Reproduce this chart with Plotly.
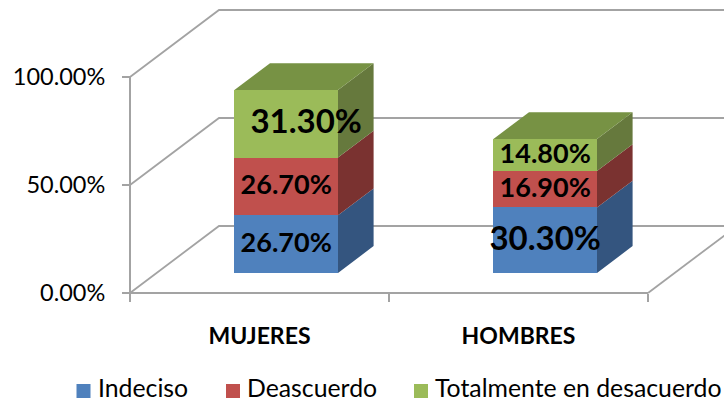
import plotly.graph_objects as go

categories = ["MUJERES", "HOMBRES"]
indeciso = [26.7, 30.3]
desacuerdo = [26.7, 16.9]
totalmente = [31.3, 14.8]
series_names = ["Indeciso", "Deascuerdo", "Totalmente en desacuerdo"]
y_ticks = [0, 50, 100]
y_tick_labels = ["0.00%", "50.00%", "100.00%"]

# style
FONT = "Lato, Carlito, sans-serif"
front = ["#4F81BD", "#C0504D", "#9BBB59"]
side = ["#34557F", "#7A3230", "#66793D"]
top_face = "#779244"
GRID = "#A3A3A3"
W, H = 724, 404
X0_PX, Y0_PX = 130, 293        # pixel position of the axes origin
PX_X, PX_Y = 259.0, 2.16       # pixels per category / per percent
DX, DY = 89 / PX_X, 67 / PX_Y  # oblique projection of full chart depth
D0, D1 = 0.3, 0.7              # bar extent in depth
BAR_W = 0.4
label_sizes = [[27, 33], [27, 27], [33, 27]]
label_nudge_x = [[0, 0], [0, 0], [20 / PX_X, 0]]
legend_swatch_px = [83.5, 233, 421]
legend_text_px = [98, 247, 435]
LEGEND_Y_PX = 391


def proj(x, y, d):
    return x + d * DX, y + d * DY


def from_px(px, py):
    return (px - X0_PX) / PX_X, (Y0_PX - py) / PX_Y


fig = go.Figure()

# walls and floor
grid_x, grid_y = [], []
XMAX = (W - X0_PX) / PX_X
XMIN = -X0_PX / PX_X
for v in y_ticks:
    bx, by = proj(0, v, 1)
    grid_x += [0, bx, XMAX, None]
    grid_y += [v, by, by, None]
fx, fy = proj(2, 0, 1)
grid_x += [2, fx, None]
grid_y += [0, fy, None]
fig.add_trace(go.Scatter(x=grid_x, y=grid_y, mode="lines", showlegend=False, hoverinfo="skip",
                         line=dict(color=GRID, width=1.8), zorder=-2))
fig.add_trace(go.Scatter(x=[0, 0, None, 0, 2], y=[100, 0, None, 0, 0], mode="lines", showlegend=False,
                         hoverinfo="skip", line=dict(color=GRID, width=2), zorder=-1))

stacks = [indeciso, desacuerdo, totalmente]
cum = [0.0, 0.0]
for s, values in enumerate(stacks):
    xs, bases = [], []
    sx, sy = [], []
    for i, v in enumerate(values):
        cx, base = proj(i + 0.5, cum[i], D0)
        xs.append(cx)
        bases.append(base)
        rx = cx + BAR_W / 2
        p1 = (rx, base)
        p2 = (rx, base + v)
        p3 = proj(rx, base + v, D1 - D0)
        p4 = proj(rx, base, D1 - D0)
        for p in (p1, p2, p3, p4, p1):
            sx.append(p[0]); sy.append(p[1])
        sx.append(None); sy.append(None)
    fig.add_trace(go.Bar(x=xs, y=values, base=bases, width=BAR_W, name=series_names[s],
                         marker=dict(color=front[s], line=dict(width=0)),
                         showlegend=False, zorder=1, hovertemplate="%{y:.2f}%"))
    fig.add_trace(go.Scatter(x=sx, y=sy, mode="lines", fill="toself", fillcolor=side[s], line=dict(width=0),
                             showlegend=False, hoverinfo="skip", zorder=2))
    # legend row: swatch and label
    kx, ky = from_px(legend_swatch_px[s], LEGEND_Y_PX)
    fig.add_trace(go.Scatter(x=[kx], y=[ky], mode="markers", showlegend=False, hoverinfo="skip",
                             marker=dict(symbol="square", size=14, color=front[s], line=dict(width=0)), zorder=3))
    nx, ny = from_px(legend_text_px[s], LEGEND_Y_PX)
    fig.add_trace(go.Scatter(x=[nx], y=[ny], text=[series_names[s]], mode="text", textposition="middle right",
                             showlegend=False, hoverinfo="skip", zorder=3,
                             textfont=dict(family=FONT, size=24.8, color="#000000")))
    cum = [c + v for c, v in zip(cum, values)]

# top faces
tx, ty = [], []
for i, c in enumerate(cum):
    cx, base = proj(i + 0.5, c, D0)
    l, r = cx - BAR_W / 2, cx + BAR_W / 2
    for p in ((l, base), (r, base), proj(r, base, D1 - D0), proj(l, base, D1 - D0), (l, base)):
        tx.append(p[0]); ty.append(p[1])
    tx.append(None); ty.append(None)
fig.add_trace(go.Scatter(x=tx, y=ty, mode="lines", fill="toself", fillcolor=top_face, line=dict(width=0),
                         showlegend=False, hoverinfo="skip", zorder=2))

# value labels
cum = [0.0, 0.0]
for s, values in enumerate(stacks):
    lx, ly, lt = [], [], []
    for i, v in enumerate(values):
        cx, base = proj(i + 0.5, cum[i] + v / 2, D0)
        lx.append(cx + label_nudge_x[s][i])
        ly.append(base - 0.5)
        lt.append(f"{v:.2f}%")
    fig.add_trace(go.Scatter(x=lx, y=ly, text=lt, mode="text", textposition="middle center", showlegend=False,
                             hoverinfo="skip", zorder=3,
                             textfont=dict(family=FONT, size=label_sizes[s], color="#000000", weight=700)))
    cum = [c + v for c, v in zip(cum, values)]

fig.update_layout(
    width=W, height=H, autosize=False,
    margin=dict(l=0, r=0, t=0, b=0),
    paper_bgcolor="white", plot_bgcolor="white",
    barmode="overlay", bargap=0,
    font=dict(family=FONT, color="#000000"),
    showlegend=False,
    xaxis=dict(range=[XMIN, XMAX], anchor="free", position=(H - Y0_PX) / H,
               showgrid=False, zeroline=False, showline=False, automargin=False,
               tickmode="array", tickvals=[0.5, 1.5], ticktext=categories, ticks="", ticklabelstandoff=27,
               tickfont=dict(family=FONT, size=23, color="#000000", weight=700),
               minor=dict(tickmode="array", tickvals=[0, 1, 2], ticks="outside", ticklen=8, tickwidth=2,
                          tickcolor=GRID, showgrid=False)),
    yaxis=dict(range=[(Y0_PX - H) / PX_Y, Y0_PX / PX_Y], anchor="free", position=X0_PX / W,
               showgrid=False, zeroline=False, showline=False, automargin=False,
               tickmode="array", tickvals=y_ticks, ticktext=y_tick_labels, ticks="outside", ticklen=8,
               tickwidth=2, tickcolor=GRID, ticklabelstandoff=12,
               tickfont=dict(family=FONT, size=23.5, color="#000000")),
)
fig.write_html("out.html", post_script="document.body.style.margin='0';", config=dict(displayModeBar=False))
